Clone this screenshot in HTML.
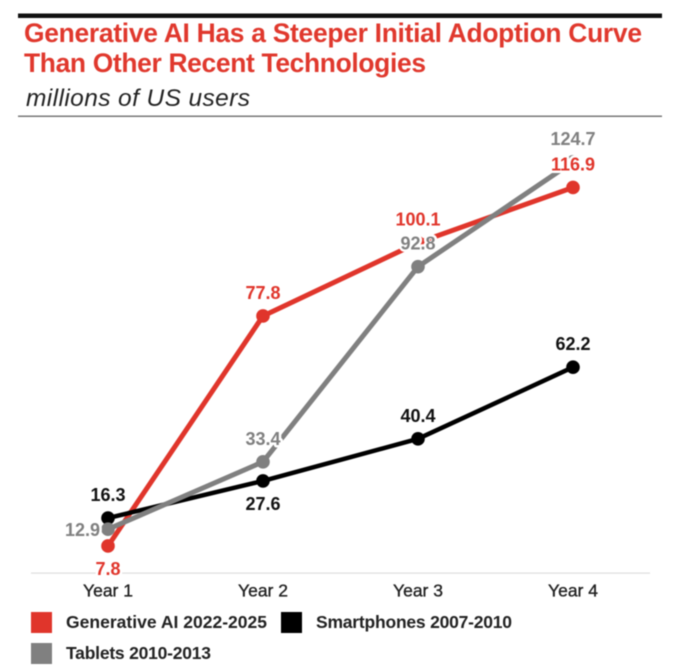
<!DOCTYPE html>
<html>
<head>
<meta charset="utf-8">
<title>Generative AI adoption chart</title>
<style>
html,body{margin:0;padding:0;background:#fff;width:680px;height:669px;overflow:hidden}
svg{display:block;filter:blur(0.4px)}
text{font-family:"Liberation Sans",Arial,sans-serif}
</style>
</head>
<body>
<svg id="chart" width="680" height="669" viewBox="0 0 680 669" xmlns="http://www.w3.org/2000/svg">
  <rect x="18" y="13.5" width="644" height="4.5" fill="#111"/>
  <text x="24" y="42" font-size="26.4" font-weight="700" fill="#e0382d" textLength="618" lengthAdjust="spacing">Generative AI Has a Steeper Initial Adoption Curve</text>
  <text x="24" y="72" font-size="26.4" font-weight="700" fill="#e0382d" textLength="402" lengthAdjust="spacing">Than Other Recent Technologies</text>
  <text x="26" y="106" font-size="24.5" font-style="italic" fill="#222" textLength="224" lengthAdjust="spacing">millions of US users</text>
  <rect x="18" y="115.5" width="644" height="1.5" fill="#777"/>
  <rect x="31" y="572.5" width="619" height="1.2" fill="#ddd"/>
  <g id="x-axis"></g>
  <g id="lines"></g>
  <g id="labels"></g>
  <g>
    <rect x="31" y="612" width="21" height="21" fill="#e0352b"/>
    <text x="66" y="628" font-size="17.5" font-weight="700" fill="#222" textLength="201" lengthAdjust="spacing">Generative AI 2022-2025</text>
    <rect x="281" y="612" width="21" height="21" fill="#000"/>
    <text x="316" y="628" font-size="17.5" font-weight="700" fill="#222" textLength="196" lengthAdjust="spacing">Smartphones 2007-2010</text>
    <rect x="31" y="643" width="21" height="21" fill="#808080"/>
    <text x="66" y="659" font-size="17.5" font-weight="700" fill="#222" textLength="145" lengthAdjust="spacing">Tablets 2010-2013</text>
  </g>
</svg>
<script>
const categories = ["Year 1", "Year 2", "Year 3", "Year 4"];
const generativeAi = [7.8, 77.8, 100.1, 116.9];
const smartphones = [16.3, 27.6, 40.4, 62.2];
const tablets = [12.9, 33.4, 92.8, 124.7];
const generativeAiPlacement = ["below", "above", "above", "above"];
const smartphonesPlacement = ["above", "below", "above", "above"];
const tabletsPlacement = ["left", "above", "above", "above"];

const NS = "http://www.w3.org/2000/svg";
function xScale(i) { return 108 + i * 155; }
function yScale(v) { return 571.6 - v * 3.286; }

const seriesList = [
  { key: "generative-ai", values: generativeAi, placement: generativeAiPlacement, color: "#e0352b", textColor: "#e0352b", width: 5 },
  { key: "smartphones", values: smartphones, placement: smartphonesPlacement, color: "#000", textColor: "#111", width: 4.5 },
  { key: "tablets", values: tablets, placement: tabletsPlacement, color: "#808080", textColor: "#808080", width: 5 }
];

const axisGroup = document.getElementById("x-axis");
const linesGroup = document.getElementById("lines");
const labelsGroup = document.getElementById("labels");

categories.forEach(function (cat, i) {
  const t = document.createElementNS(NS, "text");
  
  
  t.setAttribute("x", xScale(i));
  t.setAttribute("y", 596.5);
  t.setAttribute("text-anchor", "middle");
  t.setAttribute("font-size", "17.5");
  t.setAttribute("fill", "#222");
  t.setAttribute("stroke", "#222");
  t.setAttribute("stroke-width", "0.35");
  t.textContent = cat;
  axisGroup.appendChild(t);
});

seriesList.forEach(function (s) {
  const line = document.createElementNS(NS, "polyline");
  
  
  line.setAttribute("points", s.values.map(function (v, i) { return xScale(i) + "," + yScale(v); }).join(" "));
  line.setAttribute("fill", "none");
  line.setAttribute("stroke", s.color);
  line.setAttribute("stroke-width", s.width);
  line.setAttribute("stroke-linejoin", "round");
  linesGroup.appendChild(line);
  s.values.forEach(function (v, i) {
    const c = document.createElementNS(NS, "circle");
    
    
    c.setAttribute("cx", xScale(i));
    c.setAttribute("cy", yScale(v));
    c.setAttribute("r", 6.8);
    c.setAttribute("fill", s.color);
    linesGroup.appendChild(c);
  });
});

seriesList.forEach(function (s) {
  s.values.forEach(function (v, i) {
    const t = document.createElementNS(NS, "text");
    
    
    const place = s.placement[i];
    let x = xScale(i), y = yScale(v) - 17, anchor = "middle";
    if (place === "below") { y = yScale(v) + 29; }
    if (place === "left") { x = xScale(i) - 8; y = yScale(v) + 7; anchor = "end"; }
    t.setAttribute("x", x);
    t.setAttribute("y", y);
    t.setAttribute("text-anchor", anchor);
    t.setAttribute("font-size", "18");
    t.setAttribute("font-weight", "700");
    t.setAttribute("fill", s.textColor);
    t.setAttribute("stroke", "#fff");
    t.setAttribute("stroke-width", "5");
    t.setAttribute("stroke-linejoin", "round");
    t.setAttribute("paint-order", "stroke");
    t.textContent = v.toFixed(1);
    labelsGroup.appendChild(t);
  });
});
</script>
</body>
</html>
